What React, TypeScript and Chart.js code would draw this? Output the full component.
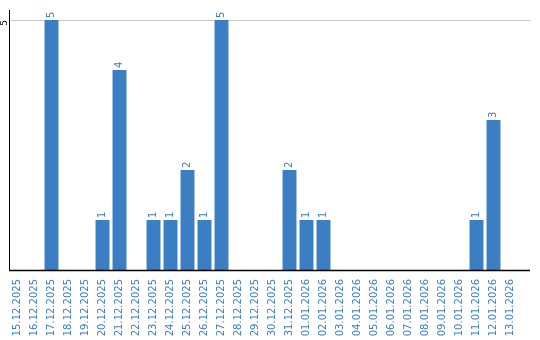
import React, { useEffect, useRef } from "react";
import { Chart, registerables } from "chart.js";

Chart.register(...registerables);

const categories = [
  "15.12.2025", "16.12.2025", "17.12.2025", "18.12.2025", "19.12.2025",
  "20.12.2025", "21.12.2025", "22.12.2025", "23.12.2025", "24.12.2025",
  "25.12.2025", "26.12.2025", "27.12.2025", "28.12.2025", "29.12.2025",
  "30.12.2025", "31.12.2025", "01.01.2026", "02.01.2026", "03.01.2026",
  "04.01.2026", "05.01.2026", "06.01.2026", "07.01.2026", "08.01.2026",
  "09.01.2026", "10.01.2026", "11.01.2026", "12.01.2026", "13.01.2026",
];
const values = [
  0, 0, 5, 0, 0,
  1, 4, 0, 1, 1,
  2, 1, 5, 0, 0,
  0, 2, 1, 1, 0,
  0, 0, 0, 0, 0,
  0, 0, 1, 3, 0,
];
const yTicks = [5];
const yMax = 5.2;

const BLUE = "#3b7ec4";
const FONT = "'DejaVu Sans', sans-serif";

const extrasPlugin = {
  id: "extras",
  beforeDatasetsDraw(chart: any) {
    const { ctx, chartArea } = chart;
    const y = chart.scales.y;
    ctx.save();
    ctx.strokeStyle = "#c8c8c8";
    ctx.lineWidth = 1;
    yTicks.forEach((t) => {
      const py = Math.round(y.getPixelForValue(t)) + 0.5;
      ctx.beginPath();
      ctx.moveTo(chartArea.right - 1, py);
      ctx.lineTo(530, py);
      ctx.stroke();
    });
    ctx.restore();
  },
  afterDraw(chart: any) {
    const { ctx, chartArea } = chart;
    const y = chart.scales.y;
    ctx.save();
    ctx.strokeStyle = "#000";
    ctx.lineWidth = 1.5;
    ctx.beginPath();
    ctx.moveTo(chartArea.left, chartArea.bottom + 0.5);
    ctx.lineTo(530, chartArea.bottom + 0.5);
    ctx.stroke();
    ctx.fillStyle = "#000";
    ctx.font = `9px ${FONT}`;
    yTicks.forEach((t) => {
      const py = y.getPixelForValue(t);
      ctx.save();
      ctx.translate(5, py);
      ctx.rotate(-Math.PI / 2);
      ctx.textAlign = "right";
      ctx.textBaseline = "middle";
      ctx.fillText(String(t), 0, 0);
      ctx.restore();
    });
    const meta = chart.getDatasetMeta(0);
    ctx.fillStyle = BLUE;
    ctx.font = `10px ${FONT}`;
    meta.data.forEach((bar: any, i: number) => {
      const v = values[i];
      if (!v) return;
      ctx.save();
      ctx.translate(bar.x, bar.y - 2);
      ctx.rotate(-Math.PI / 2);
      ctx.textAlign = "left";
      ctx.textBaseline = "middle";
      ctx.fillText(String(v), 0, 0);
      ctx.restore();
    });
    ctx.restore();
  },
};

export default function App() {
  const ref = useRef<HTMLCanvasElement | null>(null);
  useEffect(() => {
    document.body.style.margin = "0";
    const chart = new Chart(ref.current as HTMLCanvasElement, {
      type: "bar",
      data: {
        labels: categories,
        datasets: [
          {
            data: values,
            backgroundColor: BLUE,
            categoryPercentage: 1,
            barPercentage: 0.82,
          },
        ],
      },
      options: {
        animation: false,
        responsive: false,
        maintainAspectRatio: false,
        layout: { padding: { left: 9, right: 21, top: 10, bottom: 0 } },
        plugins: {
          legend: { display: false },
          tooltip: { enabled: false },
        },
        scales: {
          x: {
            afterFit(scale: any) {
              scale.height = 70;
            },
            grid: { display: false, drawTicks: false },
            border: { display: false },
            ticks: {
              autoSkip: false,
              minRotation: 90,
              maxRotation: 90,
              padding: 9,
              color: BLUE,
              font: { family: FONT, size: 10 },
            },
          },
          y: {
            min: 0,
            max: yMax,
            afterBuildTicks(scale: any) {
              scale.ticks = yTicks.map((v) => ({ value: v }));
            },
            grid: { color: "#c8c8c8", drawTicks: false },
            border: { display: true, color: "#000", width: 1 },
            ticks: { display: false },
          },
        },
      },
      plugins: [extrasPlugin],
    });
    return () => chart.destroy();
  }, []);
  return (
    <div style={{ position: "absolute", left: 0, top: 0, width: 540, height: 340 }}>
      <canvas ref={ref} width={540} height={340} style={{ width: 540, height: 340 }} />
    </div>
  );
}
